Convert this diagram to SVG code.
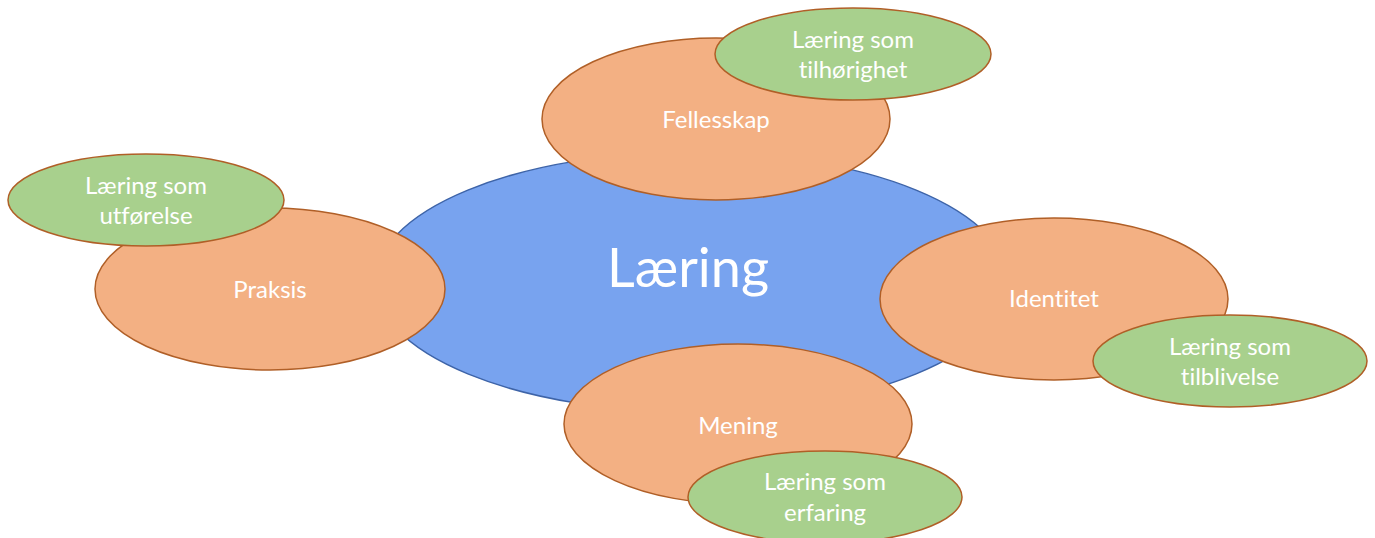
<svg xmlns="http://www.w3.org/2000/svg" width="1375" height="538" viewBox="0 0 1375 538">
<style>
.center{fill:#78a3ef;stroke:#3e64a8;stroke-width:1.5}
.orange{fill:#f3b083;stroke:#b05f27;stroke-width:1.5}
.green{fill:#a8d08d;stroke:#b05f27;stroke-width:1.5}
text{font-family:Lato,"Open Sans","Liberation Sans",sans-serif;fill:#ffffff;text-anchor:middle;font-variant-ligatures:none;font-feature-settings:"liga" 0,"dlig" 0}
.big{font-size:54px}
.lbl{font-size:24px}
</style>
<g id="connectors"></g>
<g id="laering">
<ellipse class="center" cx="692" cy="282" rx="317" ry="130"/>
<text class="big" x="688" y="287">Læring</text>
</g>
<g id="fellesskap">
<ellipse class="orange" cx="716" cy="119" rx="174" ry="81"/>
<text class="lbl" x="716" y="128">Fellesskap</text>
</g>
<g id="tilhorighet">
<ellipse class="green" cx="853" cy="54" rx="138" ry="46"/>
<text class="lbl" x="853" y="48">Læring som</text>
<text class="lbl" x="853" y="78">tilhørighet</text>
</g>
<g id="praksis">
<ellipse class="orange" cx="270" cy="289" rx="175" ry="81"/>
<text class="lbl" x="270" y="298">Praksis</text>
</g>
<g id="utforelse">
<ellipse class="green" cx="146" cy="200" rx="138" ry="46"/>
<text class="lbl" x="146" y="194">Læring som</text>
<text class="lbl" x="146" y="224">utførelse</text>
</g>
<g id="identitet">
<ellipse class="orange" cx="1054" cy="299" rx="174" ry="81"/>
<text class="lbl" x="1054" y="307">Identitet</text>
</g>
<g id="tilblivelse">
<ellipse class="green" cx="1230" cy="361" rx="137" ry="46"/>
<text class="lbl" x="1230" y="355">Læring som</text>
<text class="lbl" x="1230" y="385">tilblivelse</text>
</g>
<g id="mening">
<ellipse class="orange" cx="738" cy="424" rx="174" ry="80"/>
<text class="lbl" x="738" y="434">Mening</text>
</g>
<g id="erfaring">
<ellipse class="green" cx="825" cy="497" rx="137" ry="46"/>
<text class="lbl" x="825" y="490">Læring som</text>
<text class="lbl" x="825" y="521">erfaring</text>
</g>
</svg>
